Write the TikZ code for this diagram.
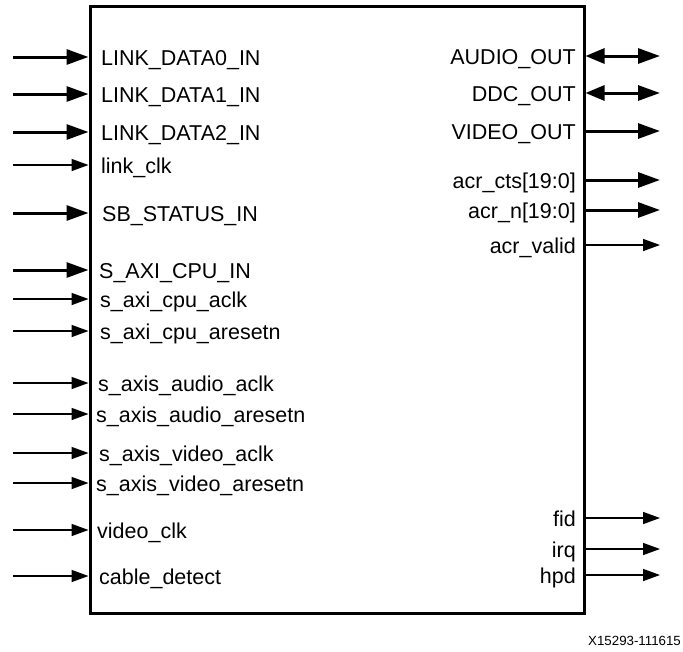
\documentclass[tikz,border=0pt]{standalone}
\usepackage{fontspec}
\setmainfont{Liberation Sans}
\usetikzlibrary{arrows.meta}
\newcommand\inport[5]{%
  \node[lbl, anchor=base west] (#1) at (#4, #2+8) {#5};
  \coordinate (#1s) at (13,#2);
  \draw[#3] (#1s) -- (#1s -| box.west);
}
\newcommand\outport[4]{%
  \node[lbl, anchor=base east] (#1) at (576, #2+8) {#4};
  \coordinate (#1e) at (660,#2);
  \draw[#3] (box.east |- #1e) -- (#1e);
}
\begin{document}
\begin{tikzpicture}[x=1pt,y=-1pt,
  blk/.style={draw, line width=3pt, inner sep=0pt, minimum width=494pt, minimum height=607pt},
  bus/.style={line width=3pt, -{Triangle[length=22pt,width=15pt]}},
  sig/.style={line width=1.5pt, -{Triangle[length=17pt,width=12pt]}},
  bibus/.style={line width=3pt, {Triangle[length=19pt,width=15pt]}-{Triangle[length=22pt,width=15pt]}},
  lbl/.style={font=\fontsize{21.5}{24}\selectfont, inner sep=0pt},
]
\useasboundingbox (0,0) rectangle (683,651);
\node[blk] (box) at (337,309.5) {};

\inport{ld0}{57}{bus}{101}{LINK\_DATA0\_IN}
\inport{ld1}{94}{bus}{101}{LINK\_DATA1\_IN}
\inport{ld2}{132}{bus}{101}{LINK\_DATA2\_IN}
\inport{lclk}{165}{sig}{101}{link\_clk}
\inport{sbst}{213}{bus}{102}{SB\_STATUS\_IN}
\inport{saxi}{270}{bus}{99}{S\_AXI\_CPU\_IN}
\inport{aclk}{299}{sig}{100}{s\_axi\_cpu\_aclk}
\inport{arst}{331}{sig}{100}{s\_axi\_cpu\_aresetn}
\inport{auclk}{383}{sig}{98}{s\_axis\_audio\_aclk}
\inport{aurst}{414}{sig}{96}{s\_axis\_audio\_aresetn}
\inport{viclk}{453}{sig}{99}{s\_axis\_video\_aclk}
\inport{virst}{483}{sig}{96}{s\_axis\_video\_aresetn}
\inport{vclk}{530}{sig}{97}{video\_clk}
\inport{cdet}{576}{sig}{99}{cable\_detect}

\outport{aout}{56}{bibus}{AUDIO\_OUT}
\outport{dout}{93}{bibus}{DDC\_OUT}
\outport{vout}{131}{bus}{VIDEO\_OUT}
\outport{cts}{180}{bus}{acr\_cts[19:0]}
\outport{acrn}{210}{bus}{acr\_n[19:0]}
\outport{acrv}{245}{sig}{acr\_valid}
\outport{fid}{518}{sig}{fid}
\outport{irq}{549}{sig}{irq}
\outport{hpd}{575}{sig}{hpd}

\node[font=\fontsize{13.3}{15}\selectfont, inner sep=0pt, anchor=base west] (fig) at (588,645) {X15293-111615};
\end{tikzpicture}
\end{document}
